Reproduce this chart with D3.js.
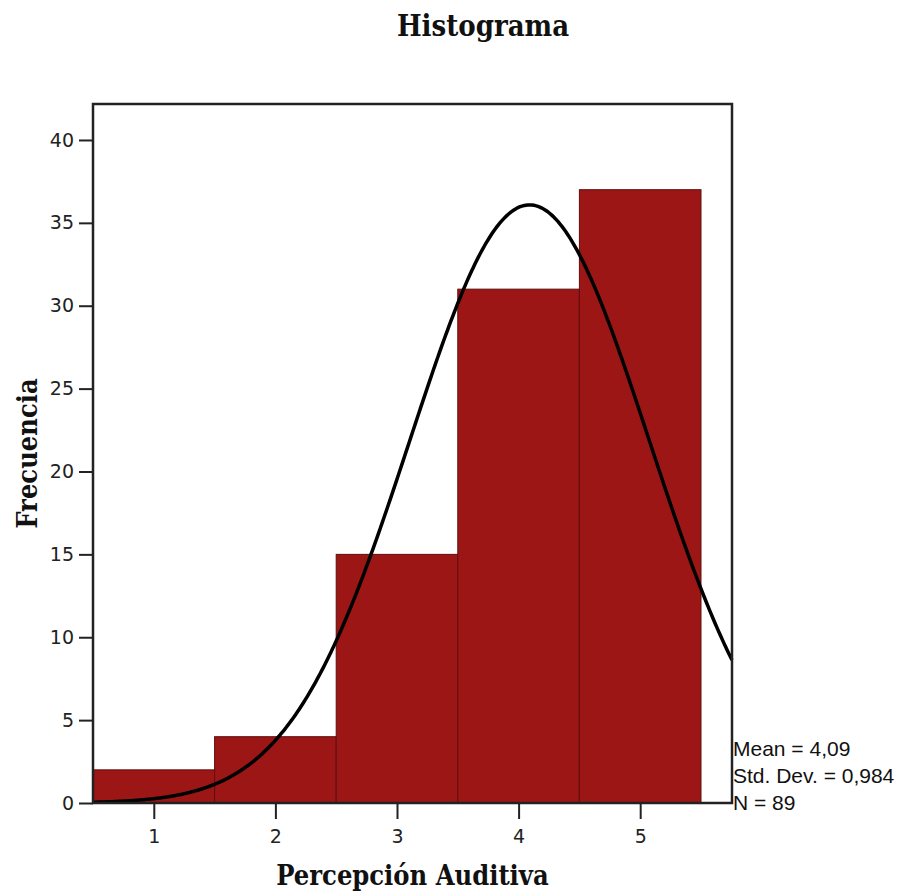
<!DOCTYPE html>
<html>
<head>
<meta charset="utf-8">
<script src="https://cdn.jsdelivr.net/npm/d3@7/dist/d3.min.js"></script>
<style>
  body { margin: 0; background: #fff; }
  svg { display: block; }
</style>
</head>
<body>
<svg id="chart" width="901" height="893"></svg>
<script>
// ---- data ----
const binCenters = [1, 2, 3, 4, 5];
const frequencies = [2, 4, 15, 31, 37];
const yTicks = [0, 5, 10, 15, 20, 25, 30, 35, 40];
const xTicks = [1, 2, 3, 4, 5];
const statMean = 4.09;
const statSD = 0.984;
const statN = 89;
const statLabels = ["Mean = 4,09", "Std. Dev. = 0,984", "N = 89"];

// ---- layout ----
const svg = d3.select("#chart");
const L = 93, R = 732, T = 104, B = 803;

const x = d3.scaleLinear().domain([0.5, 5.755]).range([L, R]);
const y = d3.scaleLinear().domain([0, 42.17]).range([B, T]);

// bars
svg.append("g").selectAll("rect").data(binCenters).join("rect")
  .attr("x", d => x(d - 0.5))
  .attr("width", d => x(d + 0.5) - x(d - 0.5))
  .attr("y", (d, i) => y(frequencies[i]))
  .attr("height", (d, i) => y(0) - y(frequencies[i]))
  .attr("fill", "#9c1616")
  .attr("stroke", "#5e0e0e")
  .attr("stroke-width", 1);

// normal curve (from stated mean / sd / N, bin width 1)
const [x0, x1] = x.domain();
const pts = d3.range(0, 401).map(i => {
  const xv = x0 + (x1 - x0) * i / 400;
  const z = (xv - statMean) / statSD;
  return [xv, statN / (statSD * Math.sqrt(2 * Math.PI)) * Math.exp(-0.5 * z * z)];
});
svg.append("path")
  .datum(pts)
  .attr("fill", "none")
  .attr("stroke", "#000")
  .attr("stroke-width", 3.5)
  .attr("d", d3.line().x(d => x(d[0])).y(d => y(d[1])));

// frame
svg.append("rect")
  .attr("x", L).attr("y", T)
  .attr("width", R - L).attr("height", B - T)
  .attr("fill", "none")
  .attr("stroke", "#222")
  .attr("stroke-width", 2.5);

// y axis
const yAxis = svg.append("g")
  .attr("transform", `translate(${L},0)`)
  .call(d3.axisLeft(y).tickValues(yTicks).tickSize(14).tickPadding(5));
yAxis.select(".domain").remove();
yAxis.selectAll("line").attr("stroke", "#222").attr("stroke-width", 2);
yAxis.selectAll("text")
  .attr("font-family", "'DejaVu Sans', Verdana, sans-serif")
  .attr("font-size", 19).attr("fill", "#222");

// x axis
const xAxis = svg.append("g")
  .attr("transform", `translate(0,${B})`)
  .call(d3.axisBottom(x).tickValues(xTicks).tickFormat(d3.format("d")).tickSize(16).tickPadding(11));
xAxis.select(".domain").remove();
xAxis.selectAll("line").attr("stroke", "#222").attr("stroke-width", 2);
xAxis.selectAll("text")
  .attr("font-family", "'DejaVu Sans', Verdana, sans-serif")
  .attr("font-size", 19).attr("fill", "#222");

// title
svg.append("text")
  .attr("x", 483).attr("y", 36)
  .attr("text-anchor", "middle")
  .attr("font-family", "'DejaVu Serif Condensed', 'DejaVu Serif', serif")
  .attr("font-size", 29)
  .attr("font-weight", "bold")
  .attr("fill", "#111")
  .text("Histograma");

// x label
svg.append("text")
  .attr("x", (L + R) / 2).attr("y", 885)
  .attr("text-anchor", "middle")
  .attr("font-family", "'DejaVu Serif Condensed', 'DejaVu Serif', serif")
  .attr("font-size", 27)
  .attr("font-weight", "bold")
  .attr("fill", "#111")
  .text("Percepción Auditiva");

// y label
svg.append("text")
  .attr("transform", `translate(37,${(T + B) / 2}) rotate(-90)`)
  .attr("text-anchor", "middle")
  .attr("font-family", "'DejaVu Serif Condensed', 'DejaVu Serif', serif")
  .attr("font-size", 27)
  .attr("font-weight", "bold")
  .attr("fill", "#111")
  .text("Frecuencia");

// stats
svg.append("g").selectAll("text").data(statLabels).join("text")
  .attr("x", R + 1)
  .attr("y", (d, i) => 756 + i * 27)
  .attr("font-family", "'Liberation Sans', Arial, sans-serif")
  .attr("font-size", 21)
  .attr("fill", "#111")
  .text(d => d);
</script>
</body>
</html>
